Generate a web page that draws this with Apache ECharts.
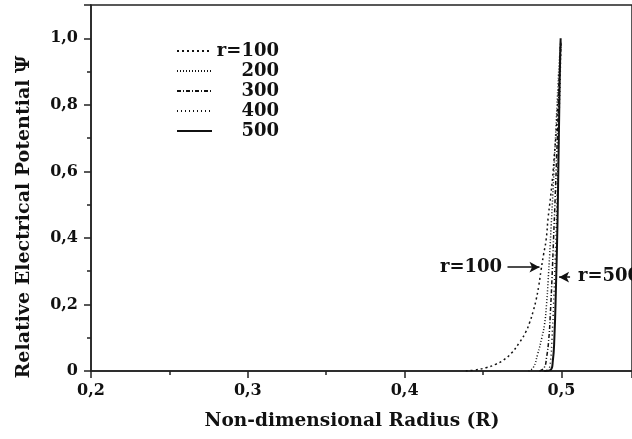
<!DOCTYPE html>
<html>
<head>
<meta charset="utf-8">
<script src="https://cdn.jsdelivr.net/npm/echarts@6/dist/echarts.min.js"></script>
<style>
  html, body { margin: 0; padding: 0; background: #fff; }
  #chart { width: 632px; height: 439px; }
</style>
</head>
<body>
<div id="chart"></div>
<script>
// series names as shown in the legend
var seriesNames = ['r=100', '200', '300', '400', '500'];

// [R, psi]
var r100 = [[0.439,0],[0.445,0.003],[0.452,0.01],[0.458,0.02],[0.463,0.033],[0.468,0.053],[0.473,0.084],
  [0.477,0.115],[0.4796,0.144],[0.482,0.18],[0.4838,0.213],[0.4855,0.255],[0.487,0.303],[0.4886,0.35],
  [0.4902,0.393],[0.4915,0.46],[0.493,0.52],[0.4943,0.58],[0.4955,0.65],[0.4966,0.714],[0.4975,0.79],
  [0.4985,0.87],[0.4993,0.94],[0.4998,0.99]];
var r200 = [[0.479,0],[0.482,0.01],[0.4848,0.05],[0.4875,0.1],[0.4892,0.14],[0.4905,0.2],[0.4915,0.27],
  [0.4925,0.35],[0.4935,0.44],[0.4945,0.53],[0.4955,0.63],[0.4965,0.73],[0.4975,0.83],[0.4985,0.92],[0.4995,0.99]];
var r300 = [[0.486,0],[0.489,0.01],[0.4905,0.04],[0.492,0.1],[0.493,0.18],[0.494,0.28],[0.495,0.4],
  [0.496,0.52],[0.497,0.65],[0.498,0.78],[0.4988,0.9],[0.4995,0.99]];
var r400 = [[0.488,0],[0.4915,0.005],[0.493,0.03],[0.494,0.1],[0.495,0.2],[0.496,0.33],[0.497,0.48],
  [0.4978,0.62],[0.4985,0.76],[0.4992,0.88],[0.4997,0.99]];
var r500 = [[0.489,0],[0.493,0.003],[0.4945,0.03],[0.4955,0.1],[0.4965,0.25],[0.4975,0.45],[0.498,0.6],
  [0.4985,0.75],[0.499,0.9],[0.4995,1.0]];

var allData = [r100, r200, r300, r400, r500];
var dashes = [[2, 3], [1, 2], [4, 2, 1, 2], [1, 3], 'solid'];
var widths = [1.5, 1.5, 1.5, 1.5, 2];

var FONT = 'DejaVu Serif';
var INK = '#111';

function comma(v) {
  if (v === 0) return '0';
  return v.toFixed(1).replace('.', ',');
}

var chart = echarts.init(document.getElementById('chart'));

var series = [];
for (var i = 0; i < allData.length; i++) {
  series.push({
    name: seriesNames[i],
    type: 'line',
    data: allData[i],
    showSymbol: false,
    symbol: 'none',
    smooth: true,
    lineStyle: { color: INK, width: widths[i], type: dashes[i] }
  });
}

// arrows for the two labelled curves
series[0].markLine = {
  silent: true,
  symbol: ['none', 'arrow'],
  symbolSize: [8, 10],
  lineStyle: { color: INK, width: 1.5, type: 'solid' },
  label: { show: false },
  data: [
    [{ coord: [0.4656, 0.312] }, { coord: [0.486, 0.312] }],
    [{ coord: [0.5055, 0.282] }, { coord: [0.4985, 0.282] }]
  ]
};

chart.setOption({
  animation: false,
  grid: { left: 91, top: 5, right: 0, bottom: 68, show: true, borderColor: '#222', borderWidth: 1.5 },
  legend: {
    data: seriesNames,
    orient: 'vertical',
    left: 171,
    top: 37,
    itemWidth: 35,
    itemHeight: 14,
    itemGap: 2,
    itemStyle: { opacity: 0 },
    formatter: function (name) { return '{a|' + name + '}'; },
    textStyle: {
      color: INK,
      rich: { a: { fontFamily: FONT, fontWeight: 'bold', fontSize: 18, color: INK, width: 62, height: 18, align: 'right' } }
    }
  },
  xAxis: {
    type: 'value',
    min: 0.2,
    max: 0.545,
    interval: 0.1,
    name: 'Non-dimensional Radius (R)',
    nameLocation: 'middle',
    nameGap: 41,
    nameTextStyle: { fontFamily: FONT, fontWeight: 'bold', fontSize: 18.5, color: INK, padding: [0, 19, 0, 0] },
    axisLine: { lineStyle: { color: '#222', width: 1.5 } },
    axisTick: { show: true, inside: false, length: 7, lineStyle: { color: '#222', width: 1.5 } },
    minorTick: { show: true, splitNumber: 2, length: 4, lineStyle: { color: '#222', width: 1.5 } },
    splitLine: { show: false },
    axisLabel: { fontFamily: FONT, fontWeight: 'bold', fontSize: 16, color: INK, margin: 12, formatter: comma,
      showMaxLabel: false }
  },
  yAxis: {
    type: 'value',
    min: 0,
    max: 1.1,
    interval: 0.2,
    name: 'Relative Electrical Potential \u03A8',
    nameLocation: 'middle',
    nameGap: 57,
    nameTextStyle: { fontFamily: FONT, fontWeight: 'bold', fontSize: 19, color: INK, padding: [0, 58, 0, 0] },
    axisLine: { show: true, lineStyle: { color: '#222', width: 1.5 } },
    axisTick: { show: true, inside: false, length: 7, lineStyle: { color: '#222', width: 1.5 } },
    minorTick: { show: true, splitNumber: 2, length: 4, lineStyle: { color: '#222', width: 1.5 } },
    splitLine: { show: false },
    axisLabel: { fontFamily: FONT, fontWeight: 'bold', fontSize: 16, color: INK, margin: 13, formatter: comma,
      showMaxLabel: false }
  },
  graphic: [
    { type: 'text', left: 440, top: 258, style: { text: 'r=100', fontFamily: FONT, fontWeight: 'bold', fontSize: 18, fill: INK } },
    { type: 'text', left: 578, top: 267, style: { text: 'r=500', fontFamily: FONT, fontWeight: 'bold', fontSize: 18, fill: INK } }
  ],
  series: series
});
</script>
</body>
</html>
